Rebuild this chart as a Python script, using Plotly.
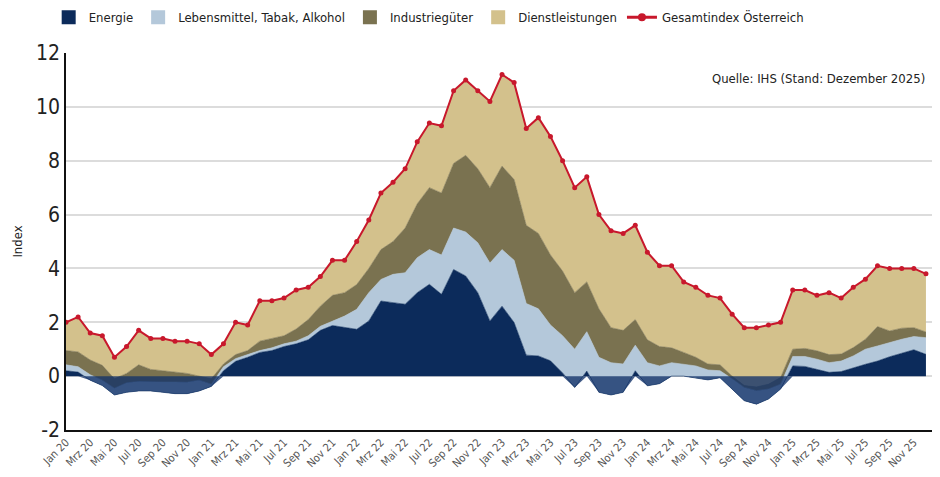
import plotly.graph_objects as go

monate = ["Jan", "Feb", "Mrz", "Apr", "Mai", "Jun", "Jul", "Aug", "Sep", "Okt", "Nov", "Dez"]
jahre = ["20", "21", "22", "23", "24", "25"]
labels = [f"{m} {j}" for j in jahre for m in monate]

energie = [0.20, 0.15, -0.15, -0.35, -0.70, -0.60, -0.55, -0.55, -0.60, -0.65, -0.65, -0.55,
           -0.38, 0.20, 0.55, 0.70, 0.88, 0.95, 1.10, 1.20, 1.35, 1.70, 1.88, 1.80,
           1.74, 2.05, 2.79, 2.73, 2.67, 3.10, 3.41, 3.04, 3.96, 3.72, 3.10, 2.05,
           2.60, 1.99, 0.78, 0.75, 0.57, 0.12, -0.42, 0.19, -0.60, -0.70, -0.60, 0.20,
           -0.36, -0.28, 0.00, 0.00, -0.06, -0.14, -0.06, -0.48, -0.91, -1.04, -0.85, -0.48,
           0.38, 0.36, 0.26, 0.14, 0.17, 0.32, 0.44, 0.56, 0.72, 0.85, 0.98, 0.81]
lebensmittel = [0.22, 0.20, 0.20, 0.20, 0.25, 0.35, 0.35, 0.33, 0.38, 0.43, 0.42, 0.40,
                0.08, 0.15, 0.10, 0.10, 0.07, 0.10, 0.10, 0.10, 0.15, 0.15, 0.17, 0.43,
                0.74, 1.05, 0.80, 1.05, 1.17, 1.30, 1.29, 1.46, 1.54, 1.63, 1.85, 2.15,
                2.10, 2.31, 1.92, 1.75, 1.33, 1.38, 1.42, 1.46, 1.30, 1.20, 1.05, 0.95,
                0.86, 0.66, 0.50, 0.44, 0.44, 0.37, 0.26, 0.38, 0.49, 0.50, 0.37, 0.18,
                0.35, 0.37, 0.37, 0.36, 0.39, 0.43, 0.56, 0.56, 0.53, 0.52, 0.49, 0.62]
industrie = [0.53, 0.55, 0.55, 0.55, 0.35, 0.35, 0.62, 0.47, 0.42, 0.37, 0.33, 0.15,
             0.20, 0.10, 0.15, 0.15, 0.35, 0.35, 0.30, 0.45, 0.60, 0.75, 0.95, 0.87,
             0.92, 0.90, 1.11, 1.22, 1.66, 2.00, 2.30, 2.30, 2.40, 2.85, 2.75, 2.80,
             3.10, 3.00, 2.90, 2.80, 2.60, 2.40, 2.10, 1.85, 1.80, 1.30, 1.25, 0.95,
             0.85, 0.72, 0.55, 0.44, 0.32, 0.22, 0.22, 0.10, 0.07, 0.14, 0.18, 0.25,
             0.27, 0.30, 0.31, 0.30, 0.26, 0.31, 0.37, 0.72, 0.43, 0.41, 0.33, 0.21]
dienstleistungen = [1.05, 1.30, 1.00, 1.10, 0.80, 1.00, 1.28, 1.15, 1.20, 1.15, 1.20, 1.20,
                    0.90, 0.75, 1.20, 0.95, 1.50, 1.40, 1.40, 1.45, 1.20, 1.10, 1.30, 1.20,
                    1.60, 1.80, 2.10, 2.20, 2.20, 2.30, 2.40, 2.50, 2.70, 2.80, 2.90, 3.20,
                    3.40, 3.60, 3.60, 4.30, 4.40, 4.10, 3.90, 3.90, 3.50, 3.60, 3.60, 3.50,
                    3.25, 3.00, 3.05, 2.62, 2.60, 2.55, 2.48, 2.30, 2.15, 2.20, 2.20, 2.05,
                    2.20, 2.17, 2.06, 2.30, 2.08, 2.24, 2.23, 2.26, 2.32, 2.22, 2.20, 2.16]
gesamt = [2.0, 2.2, 1.6, 1.5, 0.7, 1.1, 1.7, 1.4, 1.4, 1.3, 1.3, 1.2,
          0.8, 1.2, 2.0, 1.9, 2.8, 2.8, 2.9, 3.2, 3.3, 3.7, 4.3, 4.3,
          5.0, 5.8, 6.8, 7.2, 7.7, 8.7, 9.4, 9.3, 10.6, 11.0, 10.6, 10.2,
          11.2, 10.9, 9.2, 9.6, 8.9, 8.0, 7.0, 7.4, 6.0, 5.4, 5.3, 5.6,
          4.6, 4.1, 4.1, 3.5, 3.3, 3.0, 2.9, 2.3, 1.8, 1.8, 1.9, 2.0,
          3.2, 3.2, 3.0, 3.1, 2.9, 3.3, 3.6, 4.1, 4.0, 4.0, 4.0, 3.8]

y_ticks = [-2, 0, 2, 4, 6, 8, 10, 12]
y_ticktext = ["-2", "0", "2", "4", "6", "8", "10", "12"]

x = list(range(len(labels)))
FONT = "DejaVu Sans Condensed, Liberation Sans Narrow, sans-serif"

series = [
    ("Energie", energie, "#0c2b5b"),
    ("Lebensmittel, Tabak, Alkohol", lebensmittel, "#b4c8da"),
    ("Industriegüter", industrie, "#7a7250"),
    ("Dienstleistungen", dienstleistungen, "#d3c18c"),
]

fig = go.Figure()
for name, vals, col in series:
    fig.add_trace(go.Scatter(
        x=x, y=vals, name=name, stackgroup="one", mode="lines", showlegend=False,
        line=dict(width=0.6, color=col), fillcolor=col,
    ))

# negative energy part overlay (as in the original rendering)
neg = [min(v, 0) for v in energie]
fig.add_trace(go.Scatter(
    x=x, y=neg, mode="lines", fill="tozeroy", showlegend=False, hoverinfo="skip",
    line=dict(width=0), fillcolor="rgba(18,50,105,0.78)",
))

fig.add_trace(go.Scatter(
    x=x, y=gesamt, name="Gesamtindex Österreich", mode="lines+markers", showlegend=False,
    line=dict(color="#c8182c", width=2), marker=dict(size=5, color="#c8182c"),
))

# legend entries (square swatches like the original)
for name, vals, col in series:
    fig.add_trace(go.Scatter(
        x=[None], y=[None], name=name, mode="markers",
        marker=dict(symbol="square", size=14, color=col),
    ))
fig.add_trace(go.Scatter(
    x=[None], y=[None], name="Gesamtindex Österreich", mode="lines+markers",
    line=dict(color="#c8182c", width=3), marker=dict(size=8, color="#c8182c"),
))

fig.add_annotation(
    x=0.994, xref="paper", y=11.07, yref="y", text="Quelle: IHS (Stand: Dezember 2025)",
    showarrow=False, xanchor="right", yanchor="middle",
    font=dict(family=FONT, size=13, color="#222"),
)

fig.update_layout(
    width=940, height=477,
    margin=dict(l=58, r=16, t=45, b=55, autoexpand=False),
    paper_bgcolor="white", plot_bgcolor="white",
    font=dict(family=FONT, color="#222"),
    showlegend=True,
    legend=dict(
        orientation="h", x=-0.02, y=1.095, xanchor="left", yanchor="middle",
        font=dict(family=FONT, size=13, color="#222"), traceorder="normal",
        itemwidth=30, bgcolor="rgba(0,0,0,0)",
    ),
    xaxis=dict(
        range=[0, 71.5], tickmode="array", tickvals=x[::2], ticktext=labels[::2],
        tickangle=-45, tickfont=dict(family=FONT, size=11, color="#555"),
        showgrid=False, zeroline=False, showline=True, linecolor="#111", linewidth=1.5,
        ticks="", automargin=False,
    ),
    yaxis=dict(
        range=[-2, 12], tickmode="array", tickvals=y_ticks, ticktext=y_ticktext,
        tickfont=dict(family=FONT, size=21, color="#222"),
        showgrid=True, gridcolor="#dcdcdc", gridwidth=2, zeroline=False,
        showline=True, linecolor="#111", linewidth=1.5, ticks="", automargin=False,
        title=dict(text="Index", font=dict(family=FONT, size=13, color="#222"), standoff=10),
    ),
)

fig.write_html("out.html")
